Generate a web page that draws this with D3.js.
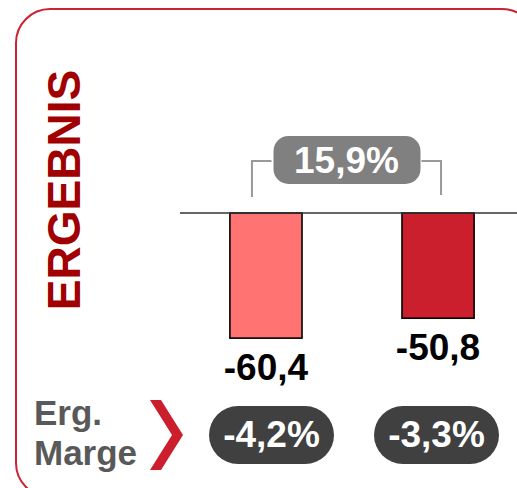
<!DOCTYPE html>
<html>
<head>
<meta charset="utf-8">
<script src="https://cdn.jsdelivr.net/npm/d3@7"></script>
<style>
  html, body { margin: 0; padding: 0; background: #fff; }
  svg { display: block; font-family: "Liberation Sans", Arial, sans-serif; }
</style>
</head>
<body>
<svg id="chart" width="517" height="488"></svg>
<script>
// chart data
var periods = ['P1', 'P2'];
var results = [-60.4, -50.8];
var resultLabels = ['-60,4', '-50,8'];
var margins = ['-4,2%', '-3,3%'];
var change = '15,9%';

var barColors = ['#ff7373', '#cc1f2e'];

var svg = d3.select('#chart');

// frame
svg.append('rect')
  .attr('x', 16).attr('y', 9)
  .attr('width', 520).attr('height', 488)
  .attr('rx', 34).attr('ry', 34)
  .attr('fill', 'none')
  .attr('stroke', '#cc2233')
  .attr('stroke-width', 2);

// vertical title
svg.append('text')
  .attr('transform', 'translate(80,190) rotate(-90)')
  .attr('text-anchor', 'middle')
  .attr('font-size', 46)
  .attr('font-weight', 'bold')
  .attr('fill', '#a00000')
  .text('ERGEBNIS');

var x = d3.scaleBand()
  .domain(periods)
  .range([180, 524])
  .paddingInner(0.581)
  .paddingOuter(0.29);

// margin pills sit on their own, slightly tighter spacing
var xm = d3.scalePoint()
  .domain(periods)
  .range([271.5, 436.5]);

var y = d3.scaleLinear()
  .domain([0, -70])
  .range([213, 358]);

var cx = function(d) { return x(d) + x.bandwidth() / 2; };

// bars
svg.selectAll('rect.bar')
  .data(results)
  .join('rect')
  .attr('class', 'bar')
  .attr('x', function(d, i) { return x(periods[i]); })
  .attr('y', y(0))
  .attr('width', x.bandwidth())
  .attr('height', function(d) { return y(d) - y(0); })
  .attr('fill', function(d, i) { return barColors[i]; })
  .attr('stroke', '#000')
  .attr('stroke-width', 1.6);

// zero line
svg.append('line')
  .attr('x1', 180).attr('x2', 517)
  .attr('y1', y(0)).attr('y2', y(0))
  .attr('stroke', '#333')
  .attr('stroke-width', 1.5);

// value labels
svg.selectAll('text.value')
  .data(results)
  .join('text')
  .attr('class', 'value')
  .attr('x', function(d, i) { return cx(periods[i]); })
  .attr('y', function(d) { return y(d) + 42; })
  .attr('text-anchor', 'middle')
  .attr('font-size', 37)
  .attr('font-weight', 'bold')
  .attr('fill', '#000')
  .text(function(d, i) { return resultLabels[i]; });

// change bracket
var bl = cx(periods[0]) - 14,
    br = cx(periods[1]) + 3,
    mid = (bl + br) / 2;
svg.append('path')
  .attr('d', 'M' + bl + ',197V161H' + (mid - 75) + 'M' + (mid + 75) + ',161H' + br + 'V195')
  .attr('fill', 'none')
  .attr('stroke', '#999')
  .attr('stroke-width', 2);
svg.append('rect')
  .attr('x', mid - 73).attr('y', 136)
  .attr('width', 147).attr('height', 48)
  .attr('rx', 15)
  .attr('fill', '#808080');
svg.append('text')
  .attr('x', mid).attr('y', 173)
  .attr('text-anchor', 'middle')
  .attr('font-size', 37)
  .attr('font-weight', 'bold')
  .attr('fill', '#fff')
  .text(change);

// margin row
var label = svg.append('text')
  .attr('font-size', 35)
  .attr('font-weight', 'bold')
  .attr('fill', '#595959');
label.append('tspan').attr('x', 34).attr('y', 425).text('Erg.');
label.append('tspan').attr('x', 34).attr('y', 465).text('Marge');

svg.append('path')
  .attr('d', 'M150,400H161L183,435L161,470H150L172,435Z')
  .attr('fill', '#cc1f2e');

var pills = svg.selectAll('g.margin')
  .data(margins)
  .join('g')
  .attr('class', 'margin')
  .attr('transform', function(d, i) { return 'translate(' + xm(periods[i]) + ',435)'; });
pills.append('rect')
  .attr('x', -62.5).attr('y', -29)
  .attr('width', 125).attr('height', 58)
  .attr('rx', 29)
  .attr('fill', '#404040');
pills.append('text')
  .attr('y', 12)
  .attr('text-anchor', 'middle')
  .attr('font-size', 37)
  .attr('font-weight', 'bold')
  .attr('fill', '#fff')
  .text(function(d) { return d; });
</script>
</body>
</html>
